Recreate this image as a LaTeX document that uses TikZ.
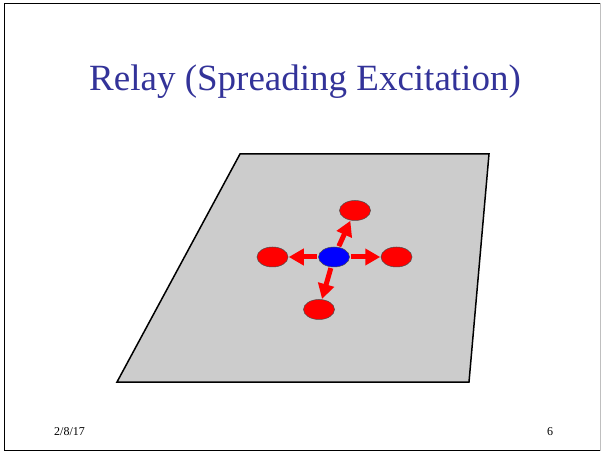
\documentclass[tikz,border=0pt]{standalone}
\usepackage{fontspec}
\setmainfont{Liberation Serif}
\usetikzlibrary{shapes.geometric, arrows.meta, positioning}

\definecolor{titleblue}{RGB}{51,51,153}
\definecolor{planegray}{RGB}{204,204,204}

\begin{document}
\begin{tikzpicture}[
    x=1pt, y=1pt,
    cell/.style={ellipse, draw=black!70, line width=0.5pt, minimum width=31pt, minimum height=20pt, inner sep=0pt},
    source/.style={cell, fill=blue},
    target/.style={cell, fill=red},
    relay/.style={-{Triangle[width=16pt, length=15pt]}, red, line width=5pt, shorten <=1pt, shorten >=0.5pt},
]
\useasboundingbox (0,0) rectangle (601,452);

% slide frame
\draw[line width=1.5pt] (600,448.5) -- (4.5,448.5) -- (4.5,1.5) -- (600,1.5);
\draw[black!25, line width=1pt] (600,1.5) -- (600,448.5);

% title and footer
\node[anchor=base, text=titleblue, font=\fontsize{37}{43}\selectfont, inner sep=0pt] (title) at (305,361) {Relay (Spreading Excitation)};
\node[anchor=base west, font=\fontsize{12}{14}\selectfont, inner sep=0pt] (date) at (54,16.5) {2/8/17};
\node[anchor=base west, font=\fontsize{12}{14}\selectfont, inner sep=0pt] (page) at (547,16.5) {6};

% the plane
\draw[fill=planegray, line width=1.5pt] (240,298) -- (489,298) -- (469,70) -- (117,70) -- cycle;

% cells
\node[source] (centre) at (334,195) {};
\node[target] (west)  [left=30pt of centre] {};
\node[target] (east)  [right=31pt of centre] {};
\node[target] (north) [above=26pt of centre, xshift=21pt] {};
\node[target] (south) [below=32pt of centre, xshift=-15pt] {};

\draw[relay] (centre) -- (west);
\draw[relay] (centre) -- (east);
\draw[relay] (centre) -- (north);
\draw[relay] (centre) -- (south);

\end{tikzpicture}
\end{document}
